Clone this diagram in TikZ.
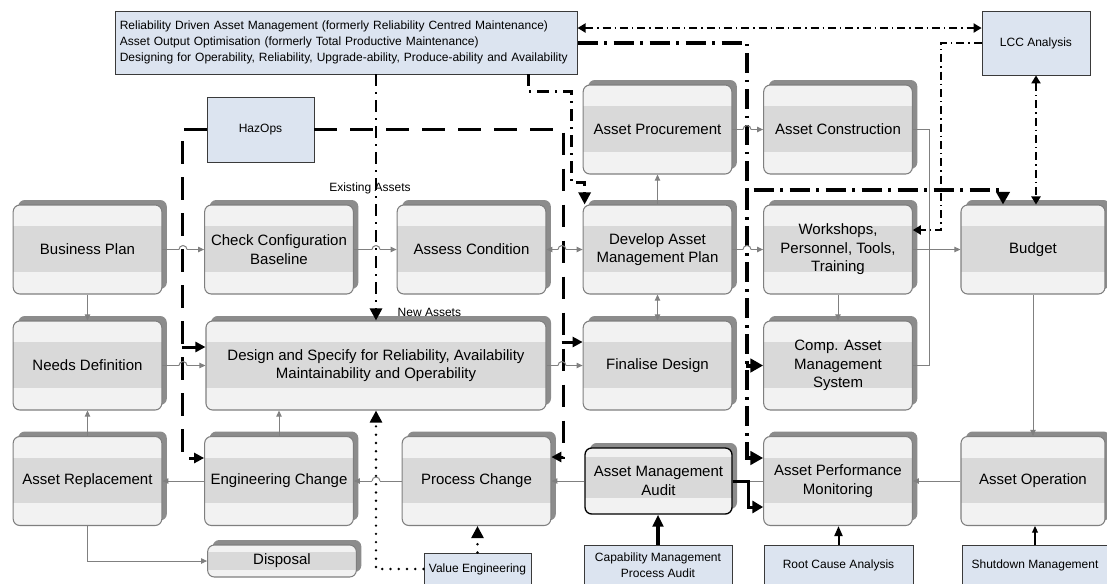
\documentclass[tikz,border=0pt]{standalone}
\usepackage{fontspec}
\setmainfont{Liberation Sans}
\usetikzlibrary{arrows.meta,calc,shadows}

\definecolor{boxline}{HTML}{7F7F7F}
\definecolor{boxfill}{HTML}{F2F2F2}
\definecolor{bandfill}{HTML}{D9D9D9}
\definecolor{shade}{HTML}{8C8C8C}
\definecolor{notefill}{HTML}{DCE4F0}
\definecolor{noteline}{HTML}{3A3A3A}
\definecolor{linkgray}{HTML}{808080}

\newcommand{\bandtop}{0.24}
\newcommand{\bandbot}{0.75}

\begin{document}
\begin{tikzpicture}[x=0.75pt,y=-0.75pt,
    proc node/.style={draw=boxline,line width=0.8pt,fill=boxfill,rounded corners=5pt,inner sep=0pt,align=center,
        minimum width=111.5pt,minimum height=66.75pt,font=\fontsize{11.25}{13.9}\selectfont,
        general shadow={fill=shade,shadow xshift=3.75pt,shadow yshift=3.75pt},
        path picture={\fill[bandfill,sharp corners] ($(path picture bounding box.north west)!\bandtop!(path picture bounding box.south west)$)
            rectangle ($(path picture bounding box.north east)!\bandbot!(path picture bounding box.south east)$);}},
    band/.code 2 args={\renewcommand{\bandtop}{#1}\renewcommand{\bandbot}{#2}},
    audit/.style={draw=black,line width=1pt,minimum width=110.25pt,minimum height=49.5pt,band={0.13}{0.75}},
    note node/.style={draw=noteline,line width=0.7pt,fill=notefill,inner sep=0pt,align=center,font=\fontsize{9}{12}\selectfont},
    link/.style={color=linkgray,line width=0.75pt,>={Triangle[length=4.5pt,width=4pt]},->},
    hazard/.style={line width=2.25pt,dash pattern=on 17pt off 10pt,>={Triangle[length=7.5pt,width=7.5pt]}},
    feed/.style={line width=3pt,dash pattern=on 15pt off 5pt on 2pt off 5pt,>={Triangle[length=9.5pt,width=10pt]}},
    route/.style={line width=2pt,dash pattern=on 9pt off 4.5pt on 1.5pt off 4.5pt,>={Triangle[length=9pt,width=9pt]}},
    cost/.style={line width=1pt,dash pattern=on 6pt off 3pt on 1pt off 3pt,>={Triangle[length=6pt,width=7pt]}},
    value/.style={line width=2pt,line cap=round,dash pattern=on 0pt off 6.2pt,>={Triangle[length=9pt,width=9pt]}},
    label node/.style={font=\fontsize{9}{11}\selectfont}]
\useasboundingbox (0,0) rectangle (1107,583);

\node[proc node] (1) at (87.5,249.5) {Business Plan};
\node[proc node] (2) at (279,249.5) {Check Configuration\\Baseline};
\node[proc node] (3) at (471.5,249.5) {Assess Condition};
\node[proc node] (4) at (657.5,249.5) {Develop Asset\\Management Plan};
\node[proc node] (5) at (838,249.5) {Workshops,\\Personnel, Tools,\\Training};
\node[proc node,minimum width=108pt] (6) at (1033,249.5) {Budget};
\node[proc node] (7) at (87.5,365.5) {Needs Definition};
\node[proc node,minimum width=255pt] (8) at (376,365.5) {Design and Specify for Reliability, Availability\\Maintainability and Operability};
\node[proc node] (9) at (657.5,365.5) {Finalise Design};
\node[proc node] (10) at (838,365.5) {Comp. Asset\\Management\\System};
\node[proc node] (11) at (87.5,481) {Asset Replacement};
\node[proc node] (12) at (279,481) {Engineering Change};
\node[proc node] (13) at (476.5,481) {Process Change};
\node[proc node,audit] (14) at (658.5,481) {Asset Management\\Audit};
\node[proc node] (15) at (838,481) {Asset Performance\\Monitoring};
\node[proc node,minimum width=108pt] (16) at (1033,481) {Asset Operation};
\node[proc node] (17) at (657.5,129.5) {Asset Procurement};
\node[proc node] (18) at (838,129.5) {Asset Construction};
\node[proc node,minimum height=24pt,band={0.21}{0.79}] (19) at (282,561) {Disposal};

\node[note node,minimum width=346pt,minimum height=47.25pt,text width=340pt,align=left] (20) at (346.5,42.5)
    {Reliability Driven Asset Management (formerly Reliability Centred Maintenance)\\
     Asset Output Optimisation (formerly Total Productive Maintenance)\\
     Designing for Operability, Reliability, Upgrade-ability, Produce-ability and Availability};
\node[note node,minimum width=80.25pt,minimum height=48.75pt] (21) at (260.5,129.5) {HazOps};
\node[note node,minimum width=81pt,minimum height=48pt] (22) at (1036,43) {LCC Analysis};
\node[note node,minimum width=80.25pt,minimum height=24pt] (23) at (477.5,569) {Value Engineering};
\node[note node,minimum width=111pt,minimum height=30pt] (24) at (658,565) {Capability Management\\Process Audit};
\node[note node,minimum width=111.75pt,minimum height=30pt] (25) at (838.5,565) {Root Cause Analysis};
\node[note node,minimum width=109.5pt,minimum height=30pt] (26) at (1035,565) {Shutdown Management};

\node[label node] (27) at (370,188) {Existing Assets};
\node[label node,anchor=west] (28) at (393,312) {New Assets};

\path[link]
    (1) edge (2)
    (2) edge (3)
    (3) edge[<->] (4)
    (4) edge (5)
    (5) edge (6)
    (4) edge (17)
    (17) edge (18)
    (5) edge (10)
    (4) edge[<->] (9)
    (1) edge (7)
    (7) edge (8)
    (8) edge (9)
    (11) edge (7)
    (12) edge (11)
    (13) edge (12)
    (14) edge (13)
    (15) edge[-] (14)
    (16) edge (15)
    (6) edge (16)
    ;
\draw[link] (12.north) -- (12.north |- 8.south);
\draw[link,-] (18.east) -- ++(17,0) |- (10.east);
\draw[link] (11.south) |- (19.west);

% line jumps where the grey links pass over the black ones
\foreach \x/\y in {183/249.5,376/249.5,562/249.5,747/249.5,183/365.5,562/365.5,376/481,747/129.5}
    \fill[white] (\x-4,\y-1.2) rectangle (\x+4,\y+1.2);

\draw[hazard,->] (21.west) -| ($(12.west)+(-22,-23)$) -- ($(12.west)+(0,-23)$);
\draw[hazard,->] ($(8.west)+(-23,-18.5)$) -- ($(8.west)+(0,-18.5)$);
\draw[hazard,->] (21.east) -| ($(13.east)+(12,-24)$) -- ($(13.east)+(0,-24)$);
\draw[hazard,->] ($(9.west)+(-21,-23.5)$) -- ($(9.west)+(0,-23.5)$);

\draw[route,->] (20.south -| 8.north) -- (8.north);
\draw[route,->] ($(20.south west)+(413,0)$) |- ++(43,17) |- ($(4.north west)+(2,-22)$) -- ($(4.north west)+(2,0)$);

\coordinate (f) at ($(6.north)+(-286,-14)$);
\draw[feed,->] (20.east) -| (f) -| ($(6.north)+(-30,0)$);
\draw[feed,->] (f) |- ($(15.west)+(0,-23)$);
\draw[feed,->] ($(10.west)+(-17,0)$) -- (10.west);

\draw[cost,<->] ($(20.east)+(0,-14.5)$) -- ($(22.west)+(0,-15)$);
\draw[cost,->] (22.west) -| ($(5.east)+(28,-19.5)$) -- ($(5.east)+(0,-19.5)$);
\draw[cost,<->] (22.south) -- (22.south |- 6.north);

\draw[value,->] (23.west) -| (8.south);
\draw[value,->] (23.north) -- (23.north |- 13.south);

\draw[line width=2.25pt,>={Triangle[length=8pt,width=9pt]},->] (14.east) -- ++(16,0) |- ($(15.west)+(0,26)$);
\draw[line width=2.6pt,>={Triangle[length=9pt,width=8pt]},->] (24.north) -- (24.north |- 14.south);
\draw[line width=1.5pt,>={Triangle[length=7.5pt,width=6pt]},->] (25.north) -- (25.north |- 15.south);
\draw[line width=0.8pt,>={Triangle[length=5pt,width=4.5pt]},->] (26.north) -- (26.north |- 16.south);

\foreach \x/\y in {183/249.5,376/249.5,562/249.5,747/249.5,183/365.5,562/365.5,376/481,747/129.5}
    \draw[color=linkgray,line width=0.75pt] (\x-4,\y) arc[start angle=180,end angle=360,radius=4];
\end{tikzpicture}
\end{document}
